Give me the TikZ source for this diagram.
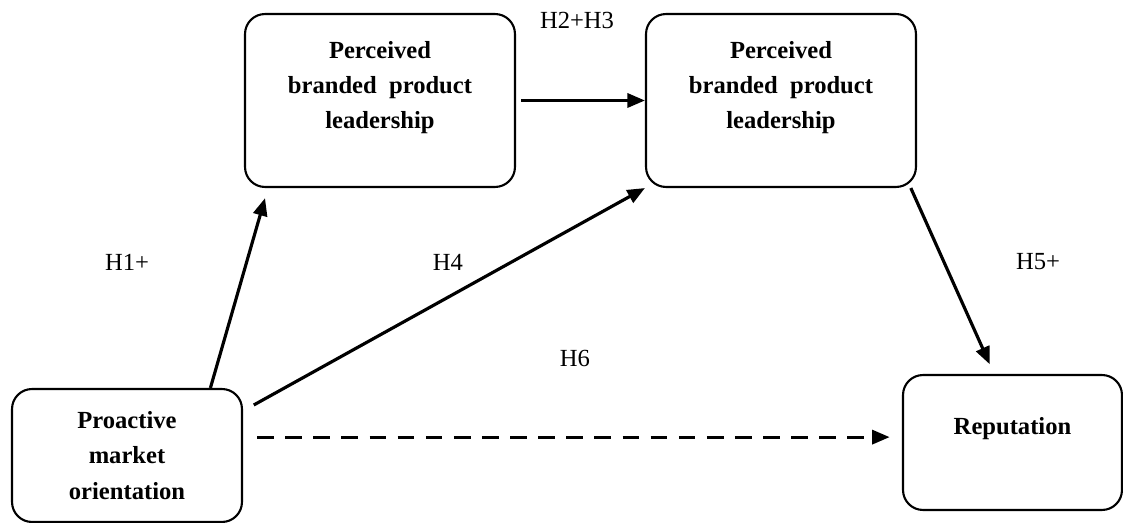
\documentclass[tikz,border=0pt]{standalone}
\usepackage{fontspec}
\setmainfont{Liberation Serif}
\usepackage{tikz}
\usetikzlibrary{calc,positioning,arrows.meta}
\tikzstyle{factor} = [rectangle, draw, line width=1.2pt, rounded corners=0.4cm,
                      align=center, font=\fontsize{14}{20}\selectfont\bfseries,
                      minimum width=5.4cm, minimum height=3.46cm, inner sep=0pt]
\tikzstyle{hyp}    = [font=\fontsize{14}{17}\selectfont, inner sep=0pt]
\tikzstyle{link}   = [draw, line width=1.8pt, -{Triangle[length=10pt,width=8pt]}]
\tikzstyle{maybe}  = [link, dash pattern=on 9.5pt off 6.5pt]

\begin{document}
\begin{tikzpicture}[x=0.02cm, y=-0.02cm]
		\useasboundingbox (0,0) rectangle (1123,523);
		% constructs
		\node[factor] (leadA) at (380,100.5) {Perceived\\branded\ \ product\\leadership\\[-2pt]\mbox{}};
		\node[factor] (leadB) at (781,100.5) {Perceived\\branded\ \ product\\leadership\\[-2pt]\mbox{}};
		\node[factor, minimum width=4.6cm, minimum height=2.66cm] (pmo) at (127,455.5) {Proactive\\market\\orientation};
		\node[factor, minimum width=4.38cm, minimum height=2.7cm] (rep) at (1012.5,442.5) {Reputation\\[-1pt]\mbox{}};

		% hypotheses
		\draw[link, shorten <=3pt] (leadA) -- (leadB);
		\draw[link, shorten >=6pt] (pmo.39) -- (leadA.218);
		\draw[link, shorten <=7pt] (pmo.21) -- (leadB.south west);
		\draw[link, shorten >=6pt] (leadB.-34) -- (rep.105);
		\draw[maybe, shorten <=8pt, shorten >=7pt] (pmo.9) -- (pmo.9 -| rep.west);

		\node[hyp] (h23) at (577,20) {H2+H3};
		\node[hyp] (h1) at (127,262) {H1+};
		\node[hyp] (h4) at (448,262) {H4};
		\node[hyp] (h5) at (1038,262) {H5+};
		\node[hyp] (h6) at (575,358) {H6};
	\end{tikzpicture}
\end{document}
